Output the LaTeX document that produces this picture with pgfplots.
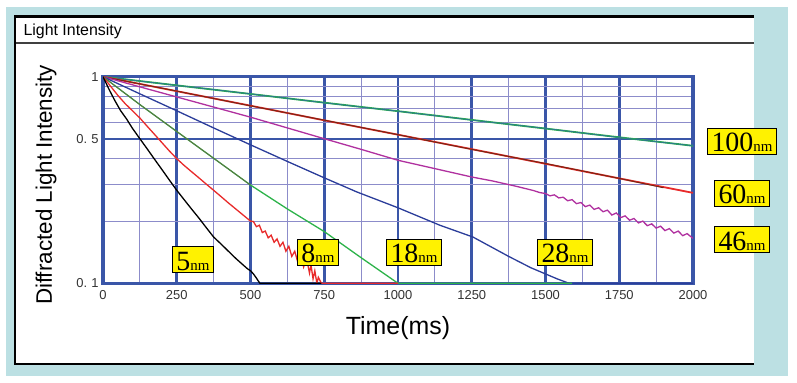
\documentclass[border=0pt]{standalone}
\usepackage{fontspec}
\setmainfont{Liberation Sans}
\newfontfamily\tnr{Liberation Serif}
\usepackage{pgfplots}
\pgfplotsset{compat=1.18}
\definecolor{bgblue}{RGB}{188,224,227}
\definecolor{framebl}{RGB}{58,86,168}
\definecolor{minorbl}{RGB}{140,140,202}
\definecolor{cgreen}{RGB}{45,179,74}
\definecolor{cteal}{RGB}{43,122,140}
\definecolor{cred}{RGB}{232,42,42}
\definecolor{cbrown}{RGB}{110,40,20}
\definecolor{cmag}{RGB}{176,48,159}
\definecolor{cblue}{RGB}{43,61,154}
\definecolor{colive}{RGB}{96,112,64}
\newcommand{\lab}[3]{\node[fill=yellow, draw=black, line width=0.6bp, inner xsep=4bp, inner ysep=2bp, text height=21.5bp, text depth=0.5bp] at (#1bp,#2bp) {\tnr\fontsize{28}{28}\selectfont #3\fontsize{15}{15}\selectfont nm};}
\begin{document}
\begin{tikzpicture}
\fill[white] (0,0) rectangle (797bp,383bp);
\useasboundingbox (0,0) rectangle (797bp,383bp);
\fill[bgblue] (6bp,7bp) rectangle (788bp,376bp);
\fill[white] (14bp,18bp) rectangle (754bp,367bp);
\draw[black, line width=2.2bp] (754bp,366.5bp) -- (15bp,366.5bp) -- (15bp,19bp) -- (754bp,19bp);
\draw[black!75, line width=2bp] (16bp,339.5bp) -- (754bp,339.5bp);
\node[anchor=west, font=\fontsize{16}{17}\selectfont] at (20bp,352bp) {Light Intensity};
\begin{axis}[
  at={(103bp,99.7bp)}, anchor=south west,
  scale only axis, width=590bp, height=206.6bp,
  ymode=log, xmin=0, xmax=2000, ymin=0.1, ymax=1,
  xtick={0,250,...,2000},
  xticklabels={0,250,500,750,1000,1250,1500,1750,2000},
  minor xtick={125,375,...,1875},
  ytick={0.1,0.5,1}, yticklabels={{0.\hspace{4bp}1},{0.\hspace{4bp}5},{1}},
  minor ytick={0.2,0.3,0.4,0.6,0.7,0.8,0.9},
  grid=both,
  major grid style={framebl, line width=2.7bp},
  minor grid style={minorbl, line width=1.1bp},
  axis line style={framebl, line width=3.3bp},
  major tick length=0pt, minor tick length=0pt,
  xticklabel style={font=\fontsize{13}{14}\selectfont, text=black!80, yshift=-4bp},
  yticklabel style={font=\fontsize{13}{14}\selectfont, text=black!80, xshift=-1bp},
  xlabel={Time(ms)},
  xlabel style={font=\fontsize{25}{26}\selectfont, at={(axis description cs:0.5,-0.215)}, anchor=center},
  ylabel={Diffracted Light Intensity},
  ylabel style={font=\fontsize{22.5}{24}\selectfont, at={(axis description cs:-0.0966,0.476)}, anchor=center},
  every axis plot/.append style={no marks, line width=1.3bp},
]
% 100 nm
\addplot[cgreen, line width=1.8bp] coordinates {(0,1) (250,0.908) (500,0.825) (750,0.749) (1000,0.681) (1250,0.618) (1500,0.561) (1750,0.509) (2000,0.463)};
\addplot[cteal, line width=0.9bp] coordinates {(0,1) (250,0.908) (500,0.826) (750,0.748) (1000,0.681) (1250,0.617) (1500,0.562) (1750,0.508) (2000,0.463)};
% 60 nm
\addplot[cred, line width=1.8bp] coordinates {(0,1) (250,0.851) (500,0.724) (750,0.615) (1000,0.524) (1250,0.446) (1500,0.379) (1750,0.322) (2000,0.274)};
\addplot[cbrown, line width=0.9bp] coordinates {(0,1) (250,0.852) (500,0.723) (750,0.616) (1000,0.524) (1250,0.445) (1500,0.380) (1750,0.322) (1900,0.290)};
% 46 nm
\addplot[cmag] coordinates {(0,1) (125,0.893) (250,0.798) (375,0.713) (500,0.637) (625,0.565) (750,0.501) (875,0.445) (1000,0.394) (1125,0.359) (1250,0.327) (1320,0.313) (1400,0.295) (1460,0.281) (1480,0.275) (1500,0.272)
 (1515,0.265) (1530,0.268) (1545,0.259) (1560,0.261) (1575,0.251) (1590,0.254) (1605,0.243) (1620,0.246) (1635,0.235) (1650,0.239) (1665,0.228) (1680,0.232) (1695,0.222) (1710,0.226) (1725,0.214) (1740,0.219) (1755,0.208) (1770,0.212) (1785,0.202) (1800,0.206) (1815,0.196) (1830,0.200) (1845,0.190) (1860,0.194) (1875,0.185) (1890,0.189) (1905,0.180) (1920,0.184) (1935,0.175) (1950,0.179) (1965,0.170) (1980,0.174) (2000,0.165)};
% 28 nm
\addplot[cblue] coordinates {(0,1) (125,0.826) (250,0.684) (375,0.565) (500,0.468) (625,0.389) (750,0.324) (860,0.277) (1000,0.232) (1142,0.191) (1254,0.1675) (1375,0.135) (1450,0.119) (1500,0.111) (1540,0.105) (1580,0.1) (2000,0.1)};
% 18 nm
\addplot[cgreen] coordinates {(0,1) (125,0.733) (250,0.543) (375,0.403) (500,0.299) (625,0.229) (750,0.178) (875,0.133) (1000,0.1) (1590,0.1)};
\addplot[colive, line width=0.8bp] coordinates {(0,1) (125,0.733) (250,0.543) (375,0.403) (500,0.299)};
% 8 nm
\addplot[cred] coordinates {(0,1) (25,0.902) (50,0.813) (75,0.741) (100,0.684) (125,0.631) (150,0.575) (175,0.525) (200,0.479) (225,0.437) (250,0.401) (275,0.372) (300,0.347) (325,0.324) (350,0.302) (375,0.282) (400,0.263) (425,0.245) (450,0.229) (475,0.214) (500,0.200)
 (510,0.199) (520,0.188) (530,0.191) (540,0.176) (550,0.179) (560,0.166) (570,0.171) (580,0.158) (590,0.164) (600,0.151) (610,0.158) (620,0.143) (630,0.151) (640,0.135) (650,0.143) (660,0.127) (670,0.138) (680,0.120) (690,0.132) (700,0.112) (705,0.123) (712,0.105) (718,0.115) (725,0.100) (730,0.107) (740,0.1) (1000,0.1)};
% 5 nm
\addplot[black] coordinates {(0,1) (20,0.871) (40,0.767) (60,0.684) (80,0.624) (100,0.562) (125,0.501) (150,0.447) (175,0.398) (200,0.355) (225,0.316) (250,0.282) (275,0.254) (300,0.229) (325,0.207) (350,0.186) (375,0.1675) (400,0.155) (425,0.143) (450,0.132) (470,0.1245) (490,0.1175) (500,0.115) (510,0.111) (520,0.106) (527,0.1023) (532,0.1) (740,0.1)};
\end{axis}
\lab{193}{123.3}{5}
\lab{318}{130.5}{8}
\lab{414}{130.5}{18}
\lab{565}{130.5}{28}
\lab{742}{242}{100}
\lab{742}{189.7}{60}
\lab{742}{143.3}{46}
\end{tikzpicture}
\end{document}
